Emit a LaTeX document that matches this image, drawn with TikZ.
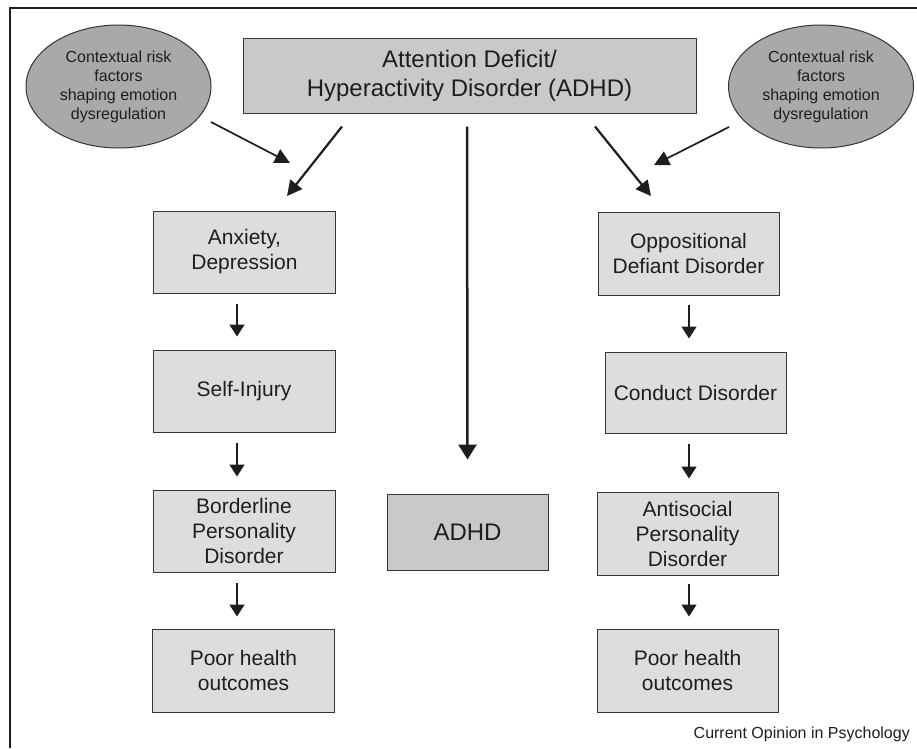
\documentclass[tikz,border=0pt]{standalone}
\usepackage{fontspec}
\setmainfont{Liberation Sans}
\usetikzlibrary{arrows.meta,shapes.geometric}
\definecolor{boxlight}{HTML}{DCDDDF}
\definecolor{boxdark}{HTML}{C8C9CB}
\definecolor{ellfill}{HTML}{A9A9AA}
\definecolor{ink}{HTML}{1E1E1E}
\begin{document}
\begin{tikzpicture}[x=1pt,y=-1pt,
  every node/.style={text=ink},
  lbox/.style={draw=ink!90,line width=1pt,fill=boxlight,align=center,inner sep=0pt,
    font=\fontsize{21}{25}\selectfont,minimum width=182pt,minimum height=82pt},
  dbox/.style={draw=ink!90,line width=1pt,fill=boxdark,align=center,inner sep=0pt},
  ell/.style={ellipse,draw=ink!90,line width=1pt,fill=ellfill,align=center,inner sep=0pt,
    font=\fontsize{16}{19}\selectfont,minimum width=185pt,minimum height=123pt},
  colarrow/.style={draw=ink,line width=1.5pt,-{Triangle[length=12pt,width=15pt]}},
  bigarrow/.style={draw=ink,line width=2.2pt,-{Triangle[length=15pt,width=15pt]}},
  midarrow/.style={draw=ink,line width=1.7pt,-{Triangle[length=15pt,width=15pt]}},
  frame/.style={draw=ink,line width=1.6pt}]
\useasboundingbox (0,0) rectangle (917,748);
% frame
\coordinate (f1) at (10,748);
\coordinate (f2) at (10,8);
\coordinate (f3) at (917,8);
\draw[frame] (f1) -- (f2) -- (f3);
% top nodes
\node[dbox,minimum width=453pt,minimum height=75pt,font=\fontsize{24}{29}\selectfont] (top) at (469.5,75.5)
  {Attention Deficit/\\Hyperactivity Disorder (ADHD)};
\node[ell] (lell) at (118.5,86.5) {Contextual risk\\factors\\shaping emotion\\dysregulation};
\node[ell] (rell) at (821,86.5) {Contextual risk\\factors\\shaping emotion\\dysregulation};
% left column
\node[lbox] (anx) at (244.5,252) {Anxiety,\\Depression};
\node[lbox] (self) at (244,391) {Self-Injury};
\node[lbox] (bpd) at (244,531) {Borderline\\Personality\\Disorder};
\node[lbox,minimum height=83pt] (lpoor) at (243.5,670.5) {Poor health\\outcomes};
% right column
\node[lbox,minimum width=181pt,minimum height=83pt] (odd) at (688.5,253.5) {Oppositional\\Defiant Disorder};
\node[lbox,minimum width=181pt,minimum height=81pt] (cd) at (695.5,392.5) {Conduct Disorder};
\node[lbox,minimum width=181pt,minimum height=83pt] (asp) at (687.5,533.5) {Antisocial\\Personality\\Disorder};
\node[lbox,minimum width=181pt,minimum height=83pt] (rpoor) at (687.5,670.5) {Poor health\\outcomes};
% center
\node[dbox,minimum width=161pt,minimum height=76pt,font=\fontsize{24}{29}\selectfont] (adhd) at (467.5,532) {ADHD};
% source
\node[anchor=east,font=\fontsize{16}{19}\selectfont,inner sep=0pt] (src) at (910,734) {Current Opinion in Psychology};
% arrow tip coordinates
\coordinate (ltip) at (287,196);
\coordinate (ltipe) at (290,163);
\coordinate (rtip) at (651,196);
\coordinate (rtipe) at (654,165);
% diagonal arrows
\draw[bigarrow] ([xshift=-127.5pt,yshift=-13pt]top.south) -- (ltip);
\draw[bigarrow] ([xshift=125.5pt,yshift=-13pt]top.south) -- (rtip);
\draw[midarrow] ([xshift=92.5pt,yshift=-35.5pt]lell.center) -- (ltipe);
\draw[midarrow] ([xshift=-92pt,yshift=-40.5pt]rell.center) -- (rtipe);
% central arrow
\draw[draw=ink,line width=2.5pt,-{Triangle[length=15pt,width=18pt]}] ([xshift=-2.5pt,yshift=-13pt]top.south) -- ([yshift=34pt]adhd.north);
% left column arrows
\draw[colarrow] ([xshift=-7.5pt,yshift=-10pt]anx.south) -- ([xshift=-7pt,yshift=13pt]self.north);
\draw[colarrow] ([xshift=-7pt,yshift=-10pt]self.south) -- ([xshift=-7pt,yshift=13pt]bpd.north);
\draw[colarrow] ([xshift=-7pt,yshift=-10pt]bpd.south) -- ([xshift=-6.5pt,yshift=12pt]lpoor.north);
% right column arrows
\draw[colarrow] ([xshift=0.5pt,yshift=-9pt]odd.south) -- ([xshift=-6.5pt,yshift=13pt]cd.north);
\draw[colarrow] ([xshift=-6.5pt,yshift=-10pt]cd.south) -- ([xshift=1.5pt,yshift=13pt]asp.north);
\draw[colarrow] ([xshift=1.5pt,yshift=-8pt]asp.south) -- ([xshift=1.5pt,yshift=12pt]rpoor.north);
\end{tikzpicture}
\end{document}
